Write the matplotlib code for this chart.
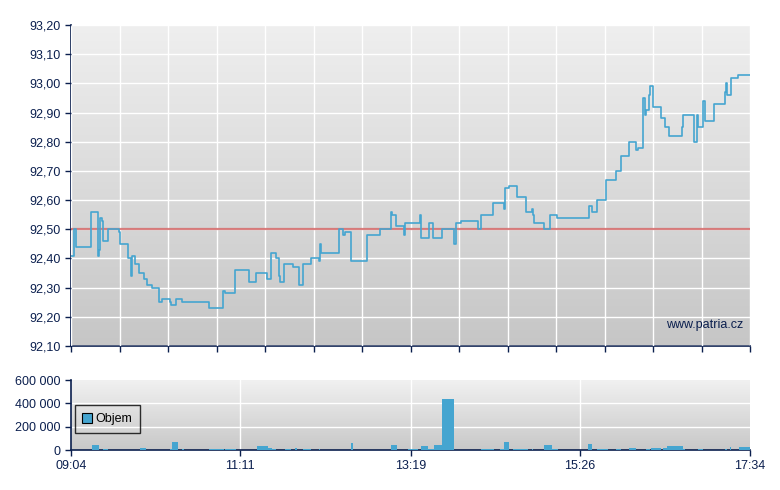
import matplotlib
matplotlib.use("Agg")
import matplotlib.pyplot as plt
import matplotlib.ticker as mticker
from matplotlib.lines import Line2D
import numpy as np

# --- data ----------------------------------------------------------------
price_times = [
    "09:04", "09:06", "09:08", "09:19", "09:24", "09:25", "09:26", "09:27",
    "09:28", "09:32", "09:40", "09:41", "09:47", "09:49", "09:50", "09:52",
    "09:55", "09:59", "10:01", "10:05", "10:10", "10:12", "10:18", "10:19",
    "10:23", "10:27", "10:48", "10:58", "11:00", "11:07", "11:18", "11:23",
    "11:31", "11:34", "11:38", "11:40", "11:41", "11:44", "11:51", "11:55",
    "11:58", "12:04", "12:10", "12:11", "12:12", "12:25", "12:28", "12:30",
    "12:34", "12:46", "12:56", "13:04", "13:05", "13:08", "13:14", "13:15",
    "13:26", "13:27", "13:33", "13:36", "13:43", "13:52", "13:53", "13:57",
    "14:10", "14:12", "14:21", "14:29", "14:30", "14:33", "14:39", "14:46",
    "14:50", "14:51", "14:52", "14:59", "15:04", "15:09", "15:33", "15:35",
    "15:39", "15:46", "15:53", "15:57", "16:03", "16:08", "16:10", "16:14",
    "16:15", "16:16", "16:18", "16:19", "16:21", "16:27", "16:30", "16:33",
    "16:43", "16:44", "16:52", "16:54", "16:55", "16:59", "17:00", "17:07",
    "17:15", "17:16", "17:17", "17:20", "17:25", "17:34",
]
price_values = [
    92.41, 92.50, 92.44, 92.56, 92.41, 92.43, 92.54, 92.53,
    92.46, 92.50, 92.49, 92.45, 92.40, 92.34, 92.41, 92.38,
    92.35, 92.33, 92.31, 92.30, 92.25, 92.26, 92.25, 92.24,
    92.26, 92.25, 92.23, 92.29, 92.28, 92.36, 92.32, 92.35,
    92.33, 92.42, 92.40, 92.34, 92.32, 92.38, 92.37, 92.31,
    92.38, 92.40, 92.39, 92.45, 92.42, 92.50, 92.48, 92.49,
    92.39, 92.48, 92.50, 92.56, 92.55, 92.51, 92.48, 92.52,
    92.55, 92.47, 92.52, 92.47, 92.50, 92.45, 92.52, 92.53,
    92.50, 92.55, 92.59, 92.57, 92.64, 92.65, 92.61, 92.56,
    92.57, 92.55, 92.52, 92.50, 92.55, 92.54, 92.58, 92.56,
    92.60, 92.67, 92.70, 92.75, 92.80, 92.77, 92.78, 92.95,
    92.89, 92.91, 92.96, 92.99, 92.92, 92.88, 92.85, 92.82,
    92.85, 92.89, 92.80, 92.89, 92.85, 92.94, 92.87, 92.93,
    92.97, 93.00, 92.96, 93.02, 93.03, 93.03,
]
prev_close = 92.50

vol_start = [
    "09:20", "09:28", "09:56", "10:18", "10:20", "10:27", "10:48", "11:00",
    "11:24", "11:32", "11:35", "11:45", "11:52", "11:58", "12:10", "12:34",
    "13:04", "13:17", "13:27", "13:32", "13:37", "13:43", "14:12", "14:26",
    "14:29", "14:36", "14:50", "14:59", "15:05", "15:32", "15:39", "15:53",
    "16:03", "16:16", "16:20", "16:29", "16:32", "16:44", "16:55", "17:15",
    "17:19", "17:26",
]
vol_end = [
    "09:25", "09:32", "10:00", "10:20", "10:24", "10:29", "10:59", "11:08",
    "11:32", "11:35", "11:38", "11:49", "11:54", "12:04", "12:11", "12:36",
    "13:09", "13:25", "13:32", "13:37", "13:43", "13:52", "14:22", "14:29",
    "14:33", "14:47", "14:51", "15:05", "15:10", "15:35", "15:47", "15:57",
    "16:08", "16:19", "16:27", "16:32", "16:44", "16:45", "16:59", "17:17",
    "17:20", "17:34",
]
vol_values = [
    43000, 9000, 17000, 9000, 72000, 9000, 9000, 9000,
    34000, 17000, 9000, 9000, 17000, 9000, 6000, 60000,
    43000, 9000, 34000, 9000, 43000, 437000, 9000, 6000,
    69000, 9000, 6000, 43000, 9000, 51000, 9000, 9000,
    17000, 9000, 17000, 17000, 34000, 9000, 9000, 6000,
    26000, 26000,
]
x_labels = ["09:04", "11:11", "13:19", "15:26", "17:34"]


def _minutes(hhmm, origin="09:04"):
    h, m = map(int, hhmm.split(":"))
    h0, m0 = map(int, origin.split(":"))
    return (h * 60 + m) - (h0 * 60 + m0)


NAVY = "#0b1f4e"
BLUE = "#45a5d0"
plt.rcParams["font.family"] = ["Liberation Sans", "DejaVu Sans"]


def _gradient(ax, top="#f0f0f0", bottom="#c6c6c6"):
    c0 = np.array(matplotlib.colors.to_rgb(top))
    c1 = np.array(matplotlib.colors.to_rgb(bottom))
    g = np.linspace(0, 1, 256)[:, None, None]
    img = c0 * (1 - g) + c1 * g
    ax.imshow(img, extent=(0, 1, 0, 1), transform=ax.transAxes,
              aspect="auto", zorder=0, interpolation="bilinear")


def _style(ax):
    for s in ("top", "right"):
        ax.spines[s].set_visible(False)
    for s in ("left", "bottom"):
        ax.spines[s].set_color(NAVY)
        ax.spines[s].set_linewidth(1.2)
    ax.tick_params(colors=NAVY, labelcolor=NAVY, labelsize=9,
                   length=4, width=1, direction="out")


t_end = _minutes("17:34")

fig = plt.figure(figsize=(7.8, 4.9), dpi=100)
ax = fig.add_axes([71 / 780, 1 - 346 / 490, 679 / 780, 321 / 490])
axv = fig.add_axes([71 / 780, 1 - 450 / 490, 679 / 780, 70 / 490])

# --- price panel ---
_gradient(ax, "#efefef", "#c6c6c6")
_style(ax)
pt = [_minutes(s) for s in price_times]
ax.step(pt, price_values, where="post", color=BLUE, lw=1.2, zorder=4)
ax.axhline(prev_close, color="#d46a6a", lw=1.6, alpha=0.85, zorder=3)
ax.set_xlim(0, t_end)
ax.set_ylim(92.10, 93.20)
ax.set_xticks(np.linspace(0, t_end, 15))
ax.set_xticklabels([])
ax.set_yticks(np.arange(92.10, 93.201, 0.10))
ax.yaxis.set_major_formatter(
    mticker.FuncFormatter(lambda v, _: f"{v:.2f}".replace(".", ",")))
ax.grid(True, color="white", lw=1.0, zorder=1)
ax.set_axisbelow(False)
for gl in ax.get_xgridlines() + ax.get_ygridlines():
    gl.set_zorder(1)
ax.text(0.99, 0.065, "www.patria.cz", transform=ax.transAxes,
        ha="right", va="center", fontsize=9, color=NAVY, zorder=5)

# --- volume panel ---
_gradient(axv, "#f1f1f1", "#c8c8c8")
_style(axv)
vs = np.array([_minutes(s) for s in vol_start])
ve = np.array([_minutes(s) for s in vol_end])
axv.bar(vs, vol_values, width=ve - vs, align="edge", color=BLUE,
        lw=0, zorder=3)
axv.set_xlim(0, t_end)
axv.set_ylim(0, 600000)
axv.set_xticks([_minutes(s) for s in x_labels])
axv.set_xticklabels(x_labels)
axv.set_yticks([0, 200000, 400000, 600000])
axv.yaxis.set_major_formatter(
    mticker.FuncFormatter(lambda v, _: f"{int(v):,}".replace(",", " ")))
for y in (200000, 400000):
    axv.axhline(y, color="white", lw=1.0, zorder=1)
for x in [_minutes(s) for s in x_labels[1:-1]]:
    axv.axvline(x, color="white", lw=1.0, zorder=1)

handle = Line2D([], [], ls="none", marker="s", markersize=6.5,
                markerfacecolor=BLUE, markeredgecolor="black",
                markeredgewidth=0.8)
leg = axv.legend([handle], ["Objem"], loc="upper left",
                 bbox_to_anchor=(0.006, 0.643), borderaxespad=0,
                 fontsize=9, frameon=True, fancybox=False,
                 facecolor="none", edgecolor="black", framealpha=None,
                 handlelength=0.55, handletextpad=0.4,
                 borderpad=0.65)
leg.get_frame().set_linewidth(1.0)
leg.set_zorder(6)

fig.savefig("out.png", dpi=100)
